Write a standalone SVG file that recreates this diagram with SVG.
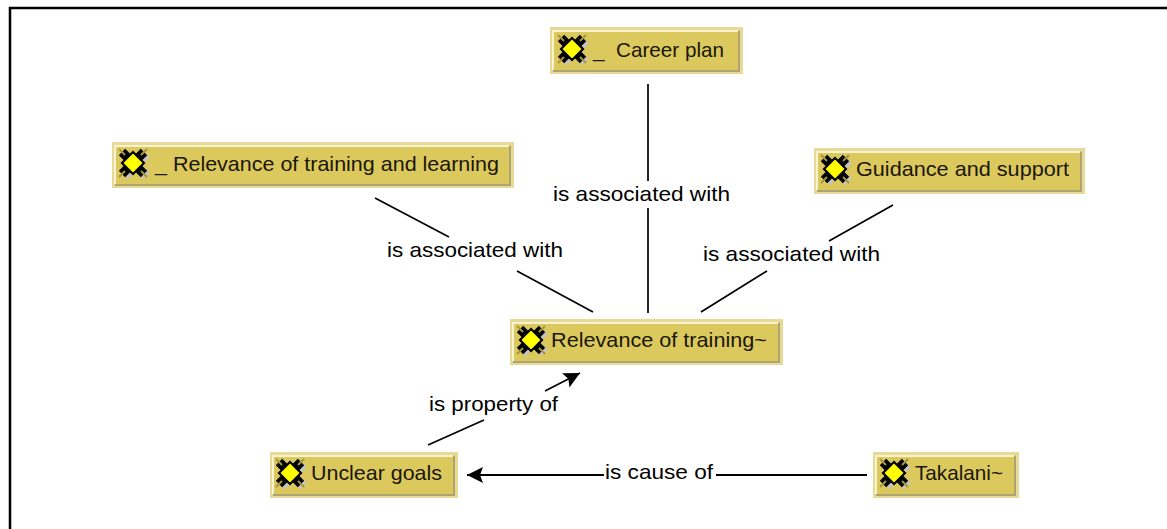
<svg xmlns="http://www.w3.org/2000/svg" width="1167" height="529" viewBox="0 0 1167 529">
<style>
text{font-family:"Liberation Sans",Arial,sans-serif;font-size:21px;fill:#000}
.nt{fill:#1a1608}
.o{fill:#e8da96}
.f{fill:#dcc95e}
.hl{stroke:#f8f3d0;stroke-width:2;fill:none}
.sh{stroke:#aca472;stroke-width:2;fill:none}
.c{stroke:#000;stroke-width:1.700;fill:none}
</style>
<defs>
<marker id="ah" markerUnits="userSpaceOnUse" markerWidth="18" markerHeight="18" refX="16" refY="8" orient="auto">
<path d="M0 0L16 8L0 16L3 8Z" fill="#000"/>
</marker>
<g id="ic">
<path d="M-11 -11L11 11M-11 11L11 -11" stroke="#c4c4c4" stroke-width="9" fill="none" transform="translate(2.500 2)"/>
<path d="M-11 -11L11 11M-11 11L11 -11" stroke="#000" stroke-width="9" fill="none"/>
<path d="M-14 -14L-8 -8M14 14L8 8M-14 14L-8 8M14 -14L8 -8" stroke="#a8963e" stroke-width="2" fill="none"/>
<path d="M0 -12.500L12.500 0L0 12.500L-12.500 0Z" fill="#000"/>
<path d="M0 -9.500L9.500 0L0 9.500L-9.500 0Z" fill="#ffff00"/>
</g>
</defs>
<rect width="1167" height="529" fill="#fff"/>
<path d="M10 529V8H1167" fill="none" stroke="#000" stroke-width="2.500"/>
<g id="connectors">
<path class="c" d="M648 84V181M648 208V313"/>
<path class="c" d="M375 198L449 237M517 271L593 312"/>
<path class="c" d="M893 205L829 241M767 271L701 312"/>
<path class="c" d="M428 445L484 420M545 391L580 373" marker-end="url(#ah)"/>
<path class="c" style="stroke-width:2" d="M867 475H716M604 475H467" marker-end="url(#ah)"/>
<text x="553" y="201" textLength="177" lengthAdjust="spacingAndGlyphs">is associated with</text>
<text x="387" y="257" textLength="176" lengthAdjust="spacingAndGlyphs">is associated with</text>
<text x="703" y="261" textLength="177" lengthAdjust="spacingAndGlyphs">is associated with</text>
<text x="429" y="411" textLength="129" lengthAdjust="spacingAndGlyphs">is property of</text>
<text x="605" y="479" textLength="108" lengthAdjust="spacingAndGlyphs">is cause of</text>
</g>
<g id="n1"><rect class="o" x="550" y="27" width="193" height="47"/><rect class="f" x="553" y="30" width="187" height="41"/><path class="hl" d="M553 70V31H738"/><path class="sh" d="M553 71H739V31"/><use href="#ic" x="572" y="49"/><text class="nt" x="593" y="57" textLength="131" lengthAdjust="spacingAndGlyphs" xml:space="preserve">_  Career plan</text></g>
<g id="n2"><rect class="o" x="112" y="142" width="402" height="46"/><rect class="f" x="115" y="145" width="396" height="40"/><path class="hl" d="M115 184V146H509"/><path class="sh" d="M115 185H510V146"/><use href="#ic" x="133" y="163"/><text class="nt" x="155" y="171" textLength="344" lengthAdjust="spacingAndGlyphs">_ Relevance of training and learning</text></g>
<g id="n3"><rect class="o" x="814" y="148" width="271" height="46"/><rect class="f" x="817" y="151" width="265" height="40"/><path class="hl" d="M817 190V152H1080"/><path class="sh" d="M817 191H1081V152"/><use href="#ic" x="835" y="169"/><text class="nt" x="856" y="176" textLength="213" lengthAdjust="spacingAndGlyphs">Guidance and support</text></g>
<g id="n4"><rect class="o" x="510" y="319" width="273" height="46"/><rect class="f" x="513" y="322" width="267" height="40"/><path class="hl" d="M513 361V323H778"/><path class="sh" d="M513 362H779V323"/><use href="#ic" x="531" y="340"/><text class="nt" x="551" y="347" textLength="216" lengthAdjust="spacingAndGlyphs">Relevance of training~</text></g>
<g id="n5"><rect class="o" x="270" y="452" width="188" height="46"/><rect class="f" x="273" y="455" width="182" height="40"/><path class="hl" d="M273 494V456H453"/><path class="sh" d="M273 495H454V456"/><use href="#ic" x="290" y="473"/><text class="nt" x="311" y="480" textLength="131" lengthAdjust="spacingAndGlyphs">Unclear goals</text></g>
<g id="n6"><rect class="o" x="873" y="452" width="146" height="46"/><rect class="f" x="876" y="455" width="140" height="40"/><path class="hl" d="M876 494V456H1014"/><path class="sh" d="M876 495H1015V456"/><use href="#ic" x="894" y="473"/><text class="nt" x="915" y="480" textLength="88" lengthAdjust="spacingAndGlyphs">Takalani~</text></g>
</svg>
